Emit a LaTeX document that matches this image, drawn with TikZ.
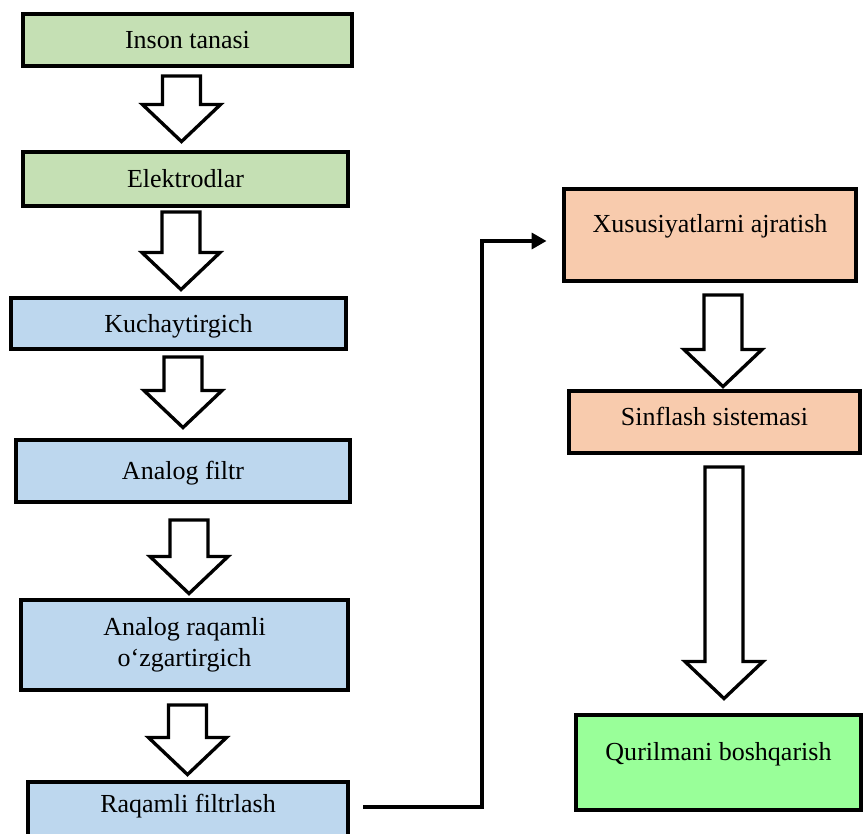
\documentclass[tikz,border=0pt]{standalone}
\usepackage{fontspec}
\setmainfont{Liberation Serif}
\usetikzlibrary{calc,arrows.meta}

\definecolor{bodygreen}{HTML}{C5E0B4}
\definecolor{stageblue}{HTML}{BDD7EE}
\definecolor{featorange}{HTML}{F8CBAD}
\definecolor{outgreen}{HTML}{99FF99}

\tikzset{
    frame/.style={draw,line width=2.5pt,inner sep=0pt,font=\fontsize{14.8pt}{17.6pt}\selectfont},
    stage/.style={frame,text height=9.8pt,text depth=0pt},
    stagetwo/.style={frame,align=center},
    blockarrow/.style={draw,fill=white,line width=1.9pt},
    link/.style={line width=2.3pt,-{Triangle[length=8.5pt,width=9pt]}},
}

% hollow arrow: from, to, x shift, gap below from, gap above to
\newcommand{\bigarrow}[5]{%
    \coordinate (t) at ($(#1.south)+(#3,#4)$);
    \coordinate (h) at ($(#2.north -| t)+(0,-#5)$);
    \draw[blockarrow] ($(t)+(-19,0)$) -- ($(h)+(-19,-37)$) -- ($(h)+(-39,-37)$) -- (h)
        -- ($(h)+(39,-37)$) -- ($(h)+(19,-37)$) -- ($(t)+(19,0)$) -- cycle;
}

\begin{document}
\begin{tikzpicture}[x=0.02cm,y=-0.02cm]
    \useasboundingbox (0,0) rectangle (867,834);

    \node[stage,fill=bodygreen,minimum width=6.57cm,minimum height=1.03cm] (body) at (187.5,40) {Inson tanasi};
    \node[stage,fill=bodygreen,minimum width=6.49cm,minimum height=1.07cm] (elec) at (185.5,179) {Elektrodlar};
    \node[stage,fill=stageblue,minimum width=6.69cm,minimum height=1.01cm] (amp) at (178.5,323.5) {Kuchaytirgich};
    \node[stage,fill=stageblue,minimum width=6.67cm,minimum height=1.23cm] (afilt) at (183,471) {Analog filtr};
    \node[stagetwo,fill=stageblue,minimum width=6.53cm,minimum height=1.79cm] (adc) at (184.5,645) {Analog raqamli\\o‘zgartirgich};
    \node[stage,fill=stageblue,minimum width=6.39cm,minimum height=1.31cm,text depth=0.464cm] (dfilt) at (188,815) {Raqamli filtrlash};

    \node[stage,fill=featorange,minimum width=5.83cm,minimum height=1.83cm,text depth=0.464cm] (feat) at (710,235) {Xususiyatlarni ajratish};
    \node[stage,fill=featorange,minimum width=5.81cm,minimum height=1.23cm,text depth=0.224cm] (cls) at (714.5,422) {Sinflash sistemasi};
    \node[stage,fill=outgreen,minimum width=5.69cm,minimum height=1.89cm,text depth=0.444cm] (ctrl) at (718.5,762.5) {Qurilmani boshqarish};

    \bigarrow{body}{elec}{-6}{8}{8.5}
    \bigarrow{elec}{amp}{-4.5}{4}{6.5}
    \bigarrow{amp}{afilt}{4.5}{6}{10.5}
    \bigarrow{afilt}{adc}{6}{16}{4.5}
    \bigarrow{adc}{dfilt}{3}{13}{5.5}
    \bigarrow{feat}{cls}{13}{12}{2.5}
    \bigarrow{cls}{ctrl}{9.5}{12}{14.5}

    \draw[link] ($(dfilt.east)+(13.5,-8)$) -| ($(feat.west)+(-80.5,6)$) -- ($(feat.west)+(-15.5,6)$);
\end{tikzpicture}
\end{document}
